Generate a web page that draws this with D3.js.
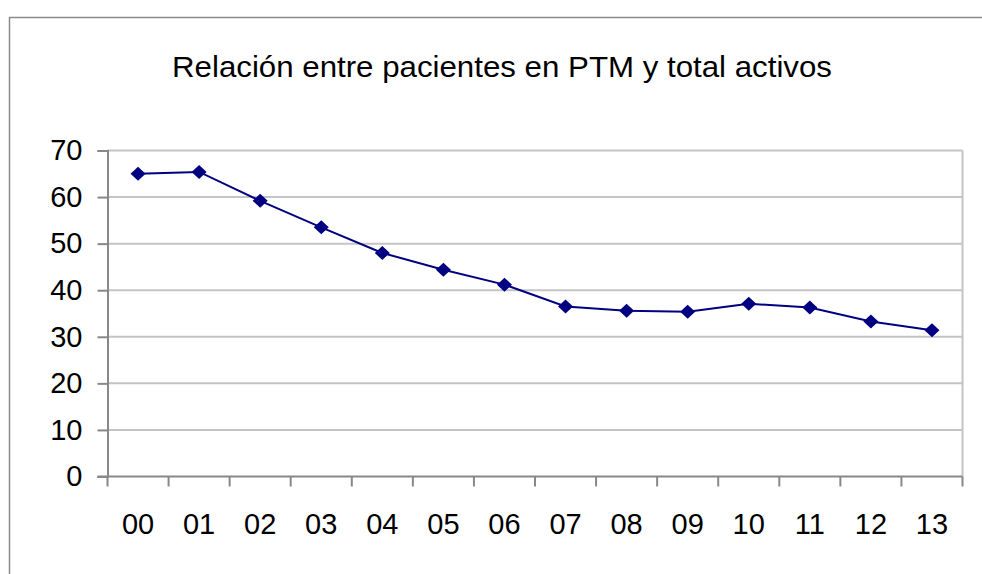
<!DOCTYPE html>
<html>
<head>
<meta charset="utf-8">
<script src="https://cdn.jsdelivr.net/npm/d3@7"></script>
<style>
  body { margin: 0; background: #fff; }
  svg { display: block; font-family: "Liberation Sans", Arial, sans-serif; }
</style>
</head>
<body>
<div id="chart"></div>
<script>
var title = "Relación entre pacientes en PTM y total activos";
var years = ["00", "01", "02", "03", "04", "05", "06", "07", "08", "09", "10", "11", "12", "13"];
var ratio = [65.0, 65.4, 59.2, 53.5, 48.0, 44.4, 41.2, 36.5, 35.6, 35.4, 37.1, 36.3, 33.3, 31.4];
var yTicks = [0, 10, 20, 30, 40, 50, 60, 70];

var width = 982, height = 574;
var plot = { left: 107.5, right: 962.5, top: 150.5, bottom: 476.5 };

var svg = d3.select("#chart").append("svg")
  .attr("width", width)
  .attr("height", height);

// outer chart frame (runs off the right/bottom edge)
svg.append("rect")
  .attr("x", 9.5).attr("y", 17.5)
  .attr("width", 1000).attr("height", 600)
  .attr("fill", "none")
  .attr("stroke", "#8a8a8a")
  .attr("stroke-width", 1.5);

svg.append("text")
  .attr("x", 502)
  .attr("y", 77)
  .attr("text-anchor", "middle")
  .attr("font-size", 29)
  .attr("textLength", 660)
  .attr("lengthAdjust", "spacingAndGlyphs")
  .text(title);

var x = d3.scaleBand().domain(years).range([plot.left, plot.right]);
var y = d3.scaleLinear().domain([0, 70]).range([plot.bottom, plot.top]);

// gridlines
svg.append("g").selectAll("line")
  .data(yTicks.filter(function(d) { return d > 0; }))
  .join("line")
  .attr("x1", plot.left).attr("x2", plot.right)
  .attr("y1", function(d) { return y(d); })
  .attr("y2", function(d) { return y(d); })
  .attr("stroke", "#c4c4c4")
  .attr("stroke-width", 2);

// right border of plot area
svg.append("line")
  .attr("x1", plot.right).attr("x2", plot.right)
  .attr("y1", plot.top).attr("y2", plot.bottom)
  .attr("stroke", "#c4c4c4")
  .attr("stroke-width", 2);

// y axis
var yAxis = d3.axisLeft(y).tickValues(yTicks).tickSize(10).tickPadding(15);
var gy = svg.append("g")
  .attr("transform", "translate(" + plot.left + ",0)")
  .call(yAxis);
gy.select(".domain").attr("stroke", "#888").attr("stroke-width", 2);
gy.selectAll(".tick line").attr("stroke", "#888").attr("stroke-width", 2);
gy.selectAll(".tick text").attr("font-size", 29).attr("fill", "#000")
  .attr("font-family", "Liberation Sans, Arial, sans-serif");

// x axis: ticks between categories
var gx = svg.append("g")
  .attr("transform", "translate(0," + plot.bottom + ")");
gx.append("line")
  .attr("x1", plot.left - 10).attr("x2", plot.right)
  .attr("stroke", "#888").attr("stroke-width", 2);
var bounds = years.map(function(d) { return x(d); }).concat([plot.right]);
gx.selectAll("line.tk")
  .data(bounds)
  .join("line")
  .attr("class", "tk")
  .attr("x1", function(d) { return d; })
  .attr("x2", function(d) { return d; })
  .attr("y1", 0).attr("y2", 10)
  .attr("stroke", "#888").attr("stroke-width", 2);
gx.selectAll("text")
  .data(years)
  .join("text")
  .attr("x", function(d) { return x(d) + x.bandwidth() / 2; })
  .attr("y", 57)
  .attr("text-anchor", "middle")
  .attr("font-size", 29)
  .text(function(d) { return d; });

// series line
var line = d3.line()
  .x(function(d, i) { return x(years[i]) + x.bandwidth() / 2; })
  .y(function(d) { return y(d); });

svg.append("path")
  .datum(ratio)
  .attr("fill", "none")
  .attr("stroke", "#000080")
  .attr("stroke-width", 2)
  .attr("d", line);

svg.append("g").selectAll("path")
  .data(ratio)
  .join("path")
  .attr("transform", function(d, i) {
    return "translate(" + (x(years[i]) + x.bandwidth() / 2) + "," + y(d) + ")";
  })
  .attr("d", "M0,-7L7.5,0L0,7L-7.5,0Z")
  .attr("fill", "#000080");
</script>
</body>
</html>
